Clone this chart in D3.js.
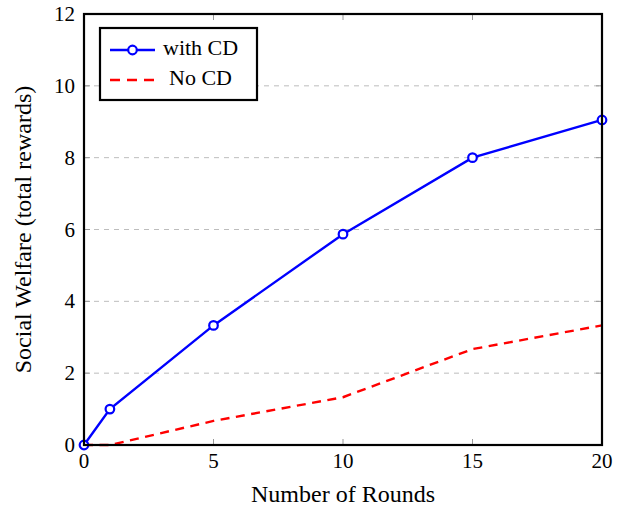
<!DOCTYPE html>
<html>
<head>
<meta charset="utf-8">
<script src="https://cdn.jsdelivr.net/npm/d3@7"></script>
</head>
<body style="margin:0">
<script>
const rounds = [0, 1, 5, 10, 15, 20];
const withCD = [0, 1.0, 3.33, 5.87, 8.0, 9.05];
const noCD = [0, 0, 0.67, 1.33, 2.67, 3.33];
const xTicks = [0, 5, 10, 15, 20];
const yTicks = [0, 2, 4, 6, 8, 10, 12];

const margin = { top: 14, right: 21, bottom: 61, left: 84 };
const width = 623 - margin.left - margin.right;
const height = 506 - margin.top - margin.bottom;

const root = d3.select("body")
  .append("svg")
  .attr("width", 623)
  .attr("height", 506)
  .style("font-family", "'Liberation Serif'");

const svg = root.append("g")
  .attr("transform", "translate(" + margin.left + "," + margin.top + ")");

const xScale = d3.scaleLinear().domain([0, 20]).range([0, width]);
const yScale = d3.scaleLinear().domain([0, 12]).range([height, 0]);

// grid
svg.append("g")
  .selectAll("line")
  .data(yTicks.slice(1, -1))
  .join("line")
  .attr("x1", 0).attr("x2", width)
  .attr("y1", d => yScale(d)).attr("y2", d => yScale(d))
  .attr("stroke", "#bdbdbd")
  .attr("stroke-width", 1)
  .attr("stroke-dasharray", "5,5");

// inner ticks (gray)
const tickLen = 6;
const ticks = svg.append("g").attr("stroke", "#999").attr("stroke-width", 1);
xTicks.slice(1, -1).forEach(t => {
  ticks.append("line").attr("x1", xScale(t)).attr("x2", xScale(t))
    .attr("y1", height).attr("y2", height - tickLen);
  ticks.append("line").attr("x1", xScale(t)).attr("x2", xScale(t))
    .attr("y1", 0).attr("y2", tickLen);
});
yTicks.slice(1, -1).forEach(t => {
  ticks.append("line").attr("x1", 0).attr("x2", tickLen)
    .attr("y1", yScale(t)).attr("y2", yScale(t));
  ticks.append("line").attr("x1", width).attr("x2", width - tickLen)
    .attr("y1", yScale(t)).attr("y2", yScale(t));
});

// tick labels
svg.append("g")
  .selectAll("text")
  .data(xTicks)
  .join("text")
  .attr("x", d => xScale(d))
  .attr("y", height + 23)
  .attr("text-anchor", "middle")
  .attr("font-size", 21)
  .text(d => d);

svg.append("g")
  .selectAll("text")
  .data(yTicks)
  .join("text")
  .attr("x", -9)
  .attr("y", d => yScale(d) + 7)
  .attr("text-anchor", "end")
  .attr("font-size", 21)
  .text(d => d);

// lines
const line = d3.line()
  .x((d, i) => xScale(rounds[i]))
  .y(d => yScale(d));

svg.append("path")
  .datum(noCD)
  .attr("fill", "none")
  .attr("stroke", "#ff0000")
  .attr("stroke-width", 2.4)
  .attr("stroke-dasharray", "9,6.5")
  .attr("d", line);

svg.append("path")
  .datum(withCD)
  .attr("fill", "none")
  .attr("stroke", "#0000ff")
  .attr("stroke-width", 2.4)
  .attr("d", line);

svg.append("g")
  .selectAll("circle")
  .data(withCD)
  .join("circle")
  .attr("cx", (d, i) => xScale(rounds[i]))
  .attr("cy", d => yScale(d))
  .attr("r", 4.3)
  .attr("fill", "#fff")
  .attr("stroke", "#0000ff")
  .attr("stroke-width", 2.2);

// frame
svg.append("rect")
  .attr("width", width).attr("height", height)
  .attr("fill", "none")
  .attr("stroke", "#000")
  .attr("stroke-width", 2.2);

// axis titles
svg.append("text")
  .attr("x", width / 2)
  .attr("y", height + 57)
  .attr("text-anchor", "middle")
  .attr("font-size", 24)
  .text("Number of Rounds");

svg.append("text")
  .attr("transform", "translate(" + (-53) + "," + (height / 2) + ") rotate(-90)")
  .attr("text-anchor", "middle")
  .attr("font-size", 24)
  .text("Social Welfare (total rewards)");

// legend
const legend = svg.append("g").attr("transform", "translate(16,14)");
legend.append("rect")
  .attr("width", 157).attr("height", 72)
  .attr("fill", "#fff")
  .attr("stroke", "#000")
  .attr("stroke-width", 2.2);
legend.append("line")
  .attr("x1", 10).attr("x2", 55).attr("y1", 22).attr("y2", 22)
  .attr("stroke", "#0000ff").attr("stroke-width", 2.4);
legend.append("circle")
  .attr("cx", 32.5).attr("cy", 22).attr("r", 4.3)
  .attr("fill", "#fff").attr("stroke", "#0000ff").attr("stroke-width", 2.2);
legend.append("text")
  .attr("x", 63).attr("y", 27)
  .attr("font-size", 22)
  .text("with CD");
legend.append("line")
  .attr("x1", 10).attr("x2", 55).attr("y1", 52).attr("y2", 52)
  .attr("stroke", "#ff0000").attr("stroke-width", 2.4)
  .attr("stroke-dasharray", "10,7");
legend.append("text")
  .attr("x", 69).attr("y", 57)
  .attr("font-size", 22)
  .text("No CD");
</script>
</body>
</html>
